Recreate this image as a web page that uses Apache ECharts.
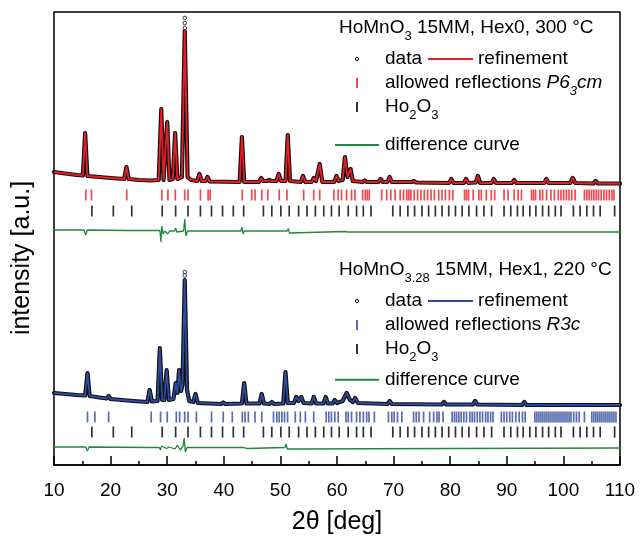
<!DOCTYPE html>
<html>
<head>
<meta charset="utf-8">
<script src="https://cdn.jsdelivr.net/npm/echarts@6/dist/echarts.min.js"></script>
<style>
html, body { margin: 0; padding: 0; background: #fff; }
#chart { width: 640px; height: 542px; }
</style>
</head>
<body>
<div id="chart"></div>
<script>
// 2theta [deg], intensity [a.u.] (patterns are stacked)
const hex0Fit = [
    [10, 293], [12, 291.5], [14, 290], [15.1, 289.5], [15.5, 332], [15.9, 289], [18, 288], [20, 287],
    [22.4, 286], [22.8, 298], [23.2, 286], [25, 285], [27, 284.5], [28.5, 285], [28.95, 356], [29.35, 285],
    [29.6, 285], [30.0, 343], [30.4, 285], [31.0, 286], [31.4, 332], [31.8, 286], [32.6, 288], [33.1, 434],
    [33.6, 288], [34.2, 285], [35.3, 284], [35.7, 291], [36.1, 284], [36.8, 284], [37.1, 288], [37.5, 283.5],
    [42.8, 283], [43.2, 328], [43.6, 283], [46.2, 283], [46.6, 287], [47.0, 284], [47.6, 284], [48.0, 285],
    [48.4, 284], [49.3, 284], [49.7, 291], [50.1, 284], [50.9, 284], [51.3, 330], [51.7, 284], [53.6, 283],
    [54.0, 289], [54.4, 283], [55.5, 283], [55.9, 287], [56.3, 284], [56.55, 284], [56.95, 301], [57.4, 283],
    [59.5, 283], [59.9, 289], [60.3, 284], [61.0, 285], [61.4, 308], [61.85, 288], [62.4, 296], [62.8, 284],
    [64.5, 283], [64.9, 284.5], [65.3, 283], [67.3, 283], [67.7, 286], [68.1, 283], [68.9, 283], [69.3, 288],
    [69.7, 283], [73.2, 283], [73.6, 284], [74.0, 282.5], [79.8, 282], [80.2, 286], [80.6, 282], [82.4, 282],
    [82.8, 286], [83.2, 282], [84.5, 282.5], [84.9, 289], [85.3, 282], [87.3, 282], [87.7, 286], [88.1, 282],
    [90.9, 282], [91.3, 285], [91.7, 282], [96.6, 282], [97.0, 286], [97.4, 282], [101.2, 282], [101.65, 287],
    [102.1, 282], [105.3, 281.5], [105.7, 284], [106.1, 281.5], [110, 281.5]
];
// measured points sticking out above the refinement at the main peak
const hex0ObsTop = [[33.1, 447], [33.1, 442], [33.1, 437]];
const hex0Diff = [
    [10, 235], [15.3, 235], [15.6, 230], [15.9, 235], [22.6, 234.5], [22.9, 232.5], [23.2, 234.5],
    [28.7, 234.5], [28.9, 223], [29.05, 239], [29.3, 231], [29.6, 234], [29.9, 236], [30.1, 231], [30.4, 234],
    [31.3, 234], [31.5, 237], [31.7, 233], [32.9, 234], [33.1, 246], [33.3, 229], [33.6, 234], [43.0, 234],
    [43.2, 238], [43.4, 231], [43.6, 234], [49.7, 234], [49.9, 236], [50.1, 234], [51.2, 234], [51.4, 236.5],
    [51.6, 232], [51.8, 234], [61.4, 233.5], [61.6, 235], [61.8, 233], [110, 233]
];
const hex0Refl = [
    15.62, 16.63, 22.85, 29.06, 30.13, 31.43, 33.09, 33.68, 35.87, 37.23, 37.59, 43.27, 44.93, 45.52, 46.71,
    47.77, 49.79, 51.15, 54.11, 55.89, 56.95, 59.44, 60.21, 60.8, 61.69, 62.57, 63.17, 64.53, 65.0, 65.36,
    65.71, 67.9, 68.79, 69.5, 70.27, 71.16, 71.75, 72.34, 72.7, 73.05, 73.65, 74.24, 74.83, 75.42, 76.01,
    76.61, 77.2, 77.97, 78.56, 79.15, 79.86, 80.45, 82.53, 82.88, 83.24, 84.07, 85.07, 85.49, 86.38, 87.26,
    87.86, 89.51, 90.22, 91.29, 92.0, 92.59, 94.37, 94.72, 95.08, 95.85, 96.32, 97.03, 97.8, 98.39, 99.1,
    99.58, 100.05, 100.53, 101.0, 101.47, 102.07, 103.72, 104.14, 104.55, 104.97, 105.38, 105.8, 106.21,
    106.68, 107.16, 107.63, 108.1, 108.58, 108.93
];

const hex1Fit = [
    [10, 72], [12, 71], [14, 70], [15.5, 69.5], [15.92, 92], [16.3, 69], [18, 67.5], [19.3, 66.5], [19.65, 69],
    [20.0, 66], [22, 65], [24, 64], [26.5, 63], [26.9, 75], [27.3, 63.5], [28.3, 64], [28.7, 117], [29.1, 65],
    [29.5, 65], [29.9, 95], [30.3, 65], [31.1, 66], [31.5, 82], [31.8, 72], [32.1, 95], [32.45, 74], [32.7, 80],
    [33.1, 185], [33.5, 75], [33.9, 64], [34.6, 63], [35.0, 71], [35.4, 62], [39.5, 61], [39.9, 62.5], [40.3, 61],
    [43.2, 61.5], [43.6, 82], [44.0, 61.5], [46.3, 61.5], [46.7, 71], [47.1, 61.5], [48.1, 61], [48.5, 63],
    [48.9, 61], [50.5, 61.5], [50.9, 93], [51.3, 62], [52.4, 62], [52.8, 68], [53.2, 64], [53.7, 68], [54.1, 62],
    [55.5, 61.5], [55.9, 68], [56.3, 61.5], [57.6, 61.5], [58.0, 68], [58.4, 61.5], [59.2, 61.5], [59.6, 65],
    [60.0, 62], [61.0, 64], [61.7, 72], [62.3, 65], [62.8, 63], [63.2, 67], [63.7, 62], [68.9, 61], [69.3, 64],
    [69.7, 61], [78.5, 60.5], [78.9, 63], [79.3, 60.5], [84.0, 60.5], [84.4, 64], [84.8, 60.5], [92.7, 60],
    [93.1, 63], [93.5, 60], [110, 60]
];
const hex1ObsTop = [[33.1, 193], [33.1, 189.5]];
const hex1Diff = [
    [10, 18], [15.6, 18], [15.9, 14], [16.2, 18], [27, 17.5], [28.6, 17.5], [28.8, 15], [29.0, 19],
    [29.3, 17.5], [29.9, 16.5], [30.3, 18], [31.4, 16], [31.8, 20], [32.3, 15], [32.8, 19], [33.0, 27],
    [33.2, 13], [33.5, 17.5], [33.8, 16], [34.1, 17.5], [43.6, 17.5], [43.8, 19], [44.0, 16.5], [44.3, 17.5],
    [50.8, 17.5], [51.0, 21], [51.2, 16], [51.5, 17.5], [110, 17]
];
const hex1Refl = [
    15.92, 17.22, 19.65, 27.17, 28.83, 30.01, 31.61, 32.2, 33.09, 33.68, 35.16, 37.83, 39.9, 41.5, 43.27,
    43.75, 44.34, 45.52, 46.71, 48.78, 49.37, 49.79, 50.26, 50.73, 51.27, 52.63, 53.52, 54.41, 55.89, 58.08,
    58.55, 59.02, 59.61, 60.2, 61.57, 61.98, 62.57, 63.46, 64.05, 64.65, 65.24, 65.65, 66.6, 69.09, 69.68,
    70.1, 70.69, 71.46, 73.53, 74.0, 74.48, 75.3, 76.37, 77.08, 77.67, 78.03, 78.74, 80.34, 80.75, 81.11,
    81.52, 81.94, 82.41, 82.88, 83.47, 83.89, 84.3, 84.78, 85.25, 85.72, 86.26, 86.67, 87.14, 87.56, 89.04,
    89.51, 89.99, 90.52, 90.99, 91.59, 92.18, 92.77, 93.24, 94.96, 95.32, 95.67, 96.03, 96.38, 96.74, 97.09,
    97.45, 97.8, 98.16, 98.51, 98.87, 99.22, 99.58, 99.93, 100.29, 100.64, 101.0, 101.35, 101.83, 102.3,
    102.78, 103.72, 105.02, 105.38, 105.74, 106.09, 106.45, 106.8, 107.16, 107.51, 107.87, 108.22, 108.58,
    108.93, 109.29
];

// Ho2O3 reflections, same for both patterns
const ho2o3Refl = [
    16.69, 20.48, 23.74, 29.12, 31.49, 33.68, 35.87, 37.83, 39.78, 41.68, 43.51, 47.0, 48.48, 50.08, 51.56,
    53.22, 54.7, 56.18, 57.66, 59.02, 60.38, 61.98, 63.46, 64.65, 66.01, 69.86, 71.16, 72.52, 73.71, 75.01,
    76.19, 77.38, 78.56, 79.74, 80.93, 82.11, 83.3, 84.66, 85.96, 87.32, 89.51, 90.7, 91.88, 92.89, 94.07,
    95.14, 96.32, 97.39, 98.57, 99.58, 101.77, 102.95, 104.14, 105.32, 106.5, 109.05
];

const xTicks = [10, 20, 30, 40, 50, 60, 70, 80, 90, 100, 110];

const FONT = 'Liberation Sans, Arial, Helvetica, sans-serif';
const RED = '#ec1c24';
const BLUE = '#2e4a9e';
const GREEN = '#1f8a3a';

// row levels (a.u.) for the reflection markers
const ROW_HEX0 = 270, ROW_HO_TOP = 254, ROW_HEX1 = 48, ROW_HO_BOT = 33;

function obsSeries(data, top) {
    return [{
        type: 'line', data: data, showSymbol: false, z: 2,
        lineStyle: { color: '#111', width: 4.2, cap: 'round', join: 'round' }
    }, {
        type: 'scatter', data: top, symbol: 'circle', symbolSize: 3.6, z: 2,
        itemStyle: { color: '#fff', borderColor: '#111', borderWidth: 1 }
    }];
}
function fitSeries(data, color) {
    return {
        type: 'line', data: data, showSymbol: false, z: 3,
        lineStyle: { color: color, width: 1.8, join: 'round' }
    };
}
function diffSeries(data) {
    return {
        type: 'line', data: data, showSymbol: false, z: 3,
        lineStyle: { color: GREEN, width: 1.3 }
    };
}
function reflSeries(list, row, color) {
    return {
        type: 'scatter', data: list.map(d => [d, row]), symbol: 'rect',
        symbolSize: [1.7, 11], itemStyle: { color: color }, z: 4
    };
}

const rich = {
    s: { fontSize: 13, fontFamily: FONT, color: '#000', padding: [16, 0, 0, 0] },
    i: { fontSize: 19, fontFamily: FONT, color: '#000', fontStyle: 'italic' },
    is: { fontSize: 13, fontFamily: FONT, color: '#000', fontStyle: 'italic', padding: [16, 0, 0, 0] }
};
function txt(x, y, text) {
    return {
        type: 'text', x: x, y: y, z: 10,
        style: { text: text, rich: rich, fontSize: 19, fontFamily: FONT, fill: '#000', verticalAlign: 'middle' }
    };
}
function legendBlock(dy, title, color, group) {
    return [
        txt(339, 28 + dy, title),
        { type: 'circle', shape: { cx: 357, cy: 59 + dy, r: 1.6 }, style: { fill: '#fff', stroke: '#000', lineWidth: 1 }, z: 10 },
        txt(385, 59 + dy, 'data'),
        { type: 'line', shape: { x1: 428, y1: 59 + dy, x2: 473, y2: 59 + dy }, style: { stroke: color, lineWidth: 2 }, z: 10 },
        txt(478, 59 + dy, 'refinement'),
        { type: 'rect', shape: { x: 356.2, y: 78 + dy, width: 1.6, height: 10 }, style: { fill: color }, z: 10 },
        txt(385, 83 + dy, 'allowed reflections ' + group),
        { type: 'rect', shape: { x: 356.2, y: 102 + dy, width: 1.6, height: 10 }, style: { fill: '#000' }, z: 10 },
        txt(385, 107 + dy, 'Ho{s|2}O{s|3}'),
        { type: 'line', shape: { x1: 335, y1: 145 + dy * 0.97, x2: 379, y2: 145 + dy * 0.97 }, style: { stroke: GREEN, lineWidth: 2 }, z: 10 },
        txt(385, 145 + dy * 0.97, 'difference curve')
    ];
}

const chart = echarts.init(document.getElementById('chart'));
chart.setOption({
    animation: false,
    backgroundColor: '#fff',
    grid: { left: 54, right: 20, top: 12, bottom: 77, show: true, borderColor: '#000', borderWidth: 1.5 },
    xAxis: {
        type: 'value', min: xTicks[0], max: xTicks[xTicks.length - 1], interval: 10,
        name: '2θ [deg]', nameLocation: 'middle', nameGap: 45,
        nameTextStyle: { fontSize: 25, fontFamily: FONT, color: '#000' },
        axisLine: { lineStyle: { color: '#000', width: 1.5 } },
        axisTick: { inside: true, length: 9, lineStyle: { color: '#000', width: 1.5 } },
        minorTick: { show: true, splitNumber: 2, length: 4, lineStyle: { color: '#000', width: 1.5 } },
        axisLabel: { fontSize: 19, fontFamily: FONT, color: '#000', margin: 16 },
        splitLine: { show: false }
    },
    yAxis: {
        type: 'value', min: 0, max: 453,
        axisLine: { show: false }, axisTick: { show: false }, axisLabel: { show: false },
        splitLine: { show: false }
    },
    graphic: [{
        type: 'text', x: 22, y: 258, rotation: Math.PI / 2, z: 10,
        style: { text: 'intensity [a.u.]', fontSize: 25, fontFamily: FONT, fill: '#000', align: 'center', verticalAlign: 'middle' }
    }].concat(
        legendBlock(0, 'HoMnO{s|3} 15MM, Hex0, 300 °C', RED, '{i|P6}{is|3}{i|cm}'),
        legendBlock(242, 'HoMnO{s|3.28} 15MM, Hex1, 220 °C', BLUE, '{i|R3c}')
    ),
    series: [].concat(
        obsSeries(hex0Fit, hex0ObsTop),
        fitSeries(hex0Fit, RED),
        reflSeries(hex0Refl, ROW_HEX0, RED),
        reflSeries(ho2o3Refl, ROW_HO_TOP, '#000'),
        diffSeries(hex0Diff),
        obsSeries(hex1Fit, hex1ObsTop),
        fitSeries(hex1Fit, BLUE),
        reflSeries(hex1Refl, ROW_HEX1, BLUE),
        reflSeries(ho2o3Refl, ROW_HO_BOT, '#000'),
        diffSeries(hex1Diff)
    )
});
</script>
</body>
</html>
